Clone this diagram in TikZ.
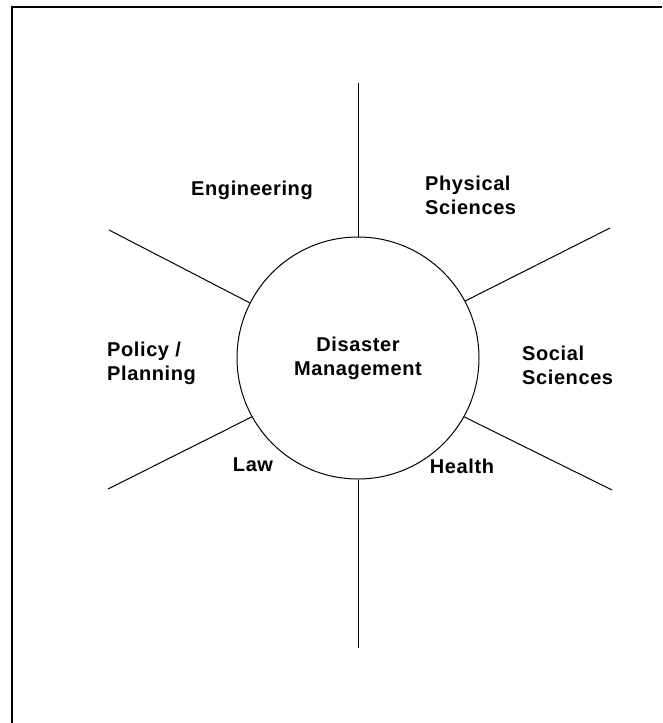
\documentclass[tikz,border=0pt]{standalone}
\usepackage{fontspec}
\setmainfont{Liberation Sans}
\newfontfamily\lblfont[LetterSpace=3]{Liberation Sans Bold}
\usetikzlibrary{positioning}

\tikzset{
  field/.style={font=\lblfont\fontsize{20}{24}\selectfont, align=left, inner sep=0pt},
  spoke/.style={line width=1pt}
}

\begin{document}
\begin{tikzpicture}[x=1pt,y=-1pt]
\useasboundingbox (0,0) rectangle (662,723);
% frame (only left and top edges show)
\draw[line width=2pt] (12,723) -- (12,7) -- (662,7);

\node[circle,draw,line width=1pt,minimum size=242pt,inner sep=0pt,
      font=\lblfont\fontsize{20}{24}\selectfont,align=center] (dm) at (358,358)
      {Disaster\\Management};

\node[field] (eng) at (252,190) {Engineering};
\node[field,anchor=west] (phys) at (425,195) {Physical\\Sciences};
\node[field,anchor=west] (pol) at (107,363) {Policy /\\Planning};
\node[field,anchor=west] (soc) at (522,365) {Social\\Sciences};
\node[field] (law) at (253,465) {Law};
\node[field] (hea) at (462,466) {Health};

\coordinate (top) at (358,83);
\coordinate (bot) at (358,648);
\coordinate (ul) at (109,230);
\coordinate (ur) at (610,228);
\coordinate (lr) at (612,490);
\coordinate (ll) at (108,489);

\path[spoke]
(top) edge (dm.90)
(dm.270) edge (bot)
(ul) edge (dm.153)
(dm.28) edge (ur)
(dm.-29) edge (lr)
(dm.209) edge (ll);
\end{tikzpicture}
\end{document}
